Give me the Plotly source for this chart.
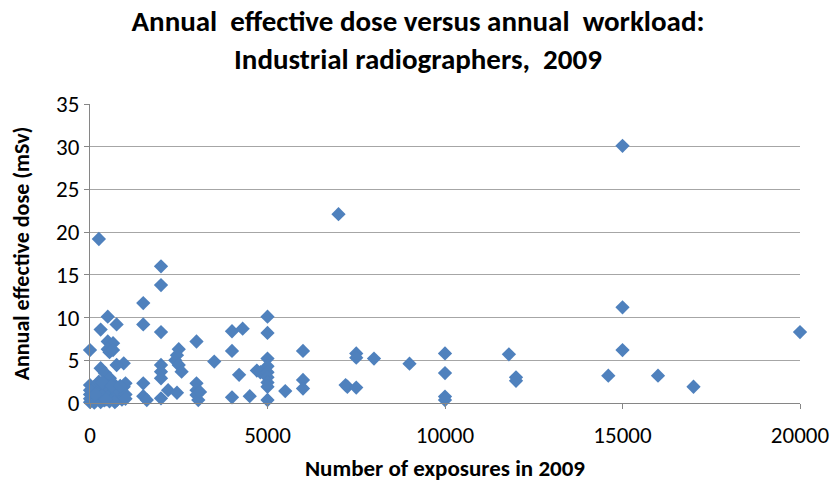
import plotly.graph_objects as go

exposures = [
    250, 2000, 2000, 1500, 500, 750, 1500, 300, 2000, 3000, 500, 650, 0, 500, 550, 650,
    2500, 2450, 2400, 2500, 2580, 3500, 950, 750, 300, 420, 560, 650, 750,
    2000, 2000, 2000, 1500, 2200, 2450, 2000, 3000, 3000, 3000, 3050, 3100, 1500, 1600,
    7000, 5000, 4000, 4300, 5000, 4000, 6000, 7500, 7500, 8000, 5000, 4200, 4700, 4800,
    5000, 5000, 5000, 5000, 5000, 5000, 5500, 6000, 6000, 7200, 7250, 7500, 4000, 4500,
    9000, 10000, 10000, 10000, 10000, 11800, 12000, 12000,
    15000, 15000, 15000, 20000, 14600, 16000, 17000,
    0, 0, 0, 0, 0, 50, 100, 100, 150, 200, 200, 250, 300, 300, 350, 400, 400, 450, 500,
    500, 550, 600, 650, 700, 750, 800, 850, 900, 950, 1000, 1000, 1000, 120, 250, 350,
    600, 700, 50, 150, 450, 850,
]
dose = [
    19.2, 16.0, 13.8, 11.7, 10.1, 9.2, 9.2, 8.6, 8.3, 7.2, 7.2, 7.0, 6.2, 6.3, 5.95, 6.2,
    6.3, 5.6, 5.0, 4.45, 3.67, 4.85, 4.65, 4.45, 4.07, 3.5, 2.9, 2.3, 1.7,
    4.45, 3.67, 2.9, 2.3, 1.5, 1.2, 0.55, 2.3, 1.5, 0.94, 0.35, 1.3, 0.8, 0.35,
    22.1, 10.1, 8.4, 8.7, 8.2, 6.1, 6.1, 5.8, 5.3, 5.2, 5.2, 3.3, 3.8, 3.6,
    4.3, 3.6, 3.0, 2.4, 1.9, 0.35, 1.4, 2.7, 1.7, 2.1, 1.9, 1.8, 0.67, 0.8,
    4.6, 5.8, 3.5, 0.75, 0.35, 5.7, 3.0, 2.6,
    30.1, 11.2, 6.2, 8.3, 3.2, 3.2, 1.9,
    0.1, 0.5, 1.0, 1.5, 2.1, 0.3, 0.8, 1.8, 0.2, 1.2, 2.2, 0.5, 1.6, 0.1, 0.9, 2.0, 0.3, 1.3, 0.6,
    1.9, 0.2, 1.1, 0.5, 1.5, 0.3, 0.9, 1.3, 0.4, 1.9, 2.3, 1.0, 0.5, 0.05, 2.5, 2.4,
    2.0, 0.1, 1.4, 1.0, 0.4, 2.0,
]

x_ticks = [0, 5000, 10000, 15000, 20000]
y_ticks = [0, 5, 10, 15, 20, 25, 30, 35]

FONT = "Carlito, Calibri, 'Liberation Sans Narrow', 'DejaVu Sans Condensed', sans-serif"

fig = go.Figure(go.Scatter(
    x=exposures, y=dose, mode="markers", cliponaxis=False,
    marker=dict(symbol="diamond", size=11, color="#4F81BD",
                line=dict(width=0)),
    showlegend=False,
))

fig.update_layout(
    width=836, height=483,
    margin=dict(l=90, r=36, t=104, b=80),
    paper_bgcolor="white", plot_bgcolor="white",
    font=dict(family=FONT, color="#000000"),
    title=dict(
        text="<b>Annual  effective dose versus annual  workload:<br>Industrial radiographers,  2009</b>",
        x=0.5, xanchor="center", xref="container", y=0.935, yanchor="top", yref="container",
        font=dict(size=29, family=FONT, color="#000000"),
    ),
)
fig.update_xaxes(
    range=[0, 20000], tickvals=x_ticks, ticktext=[str(v) for v in x_ticks],
    showgrid=False, zeroline=False, automargin=False,
    showline=True, linecolor="#868686", linewidth=1,
    ticks="outside", ticklen=5, tickcolor="#868686", ticklabelstandoff=6,
    tickfont=dict(size=23, color="#000000"),
    title=dict(text="<b>Number of exposures in 2009</b>", font=dict(size=23), standoff=12),
)
fig.update_yaxes(
    range=[0, 35], tickvals=y_ticks, ticktext=[str(v) for v in y_ticks],
    showgrid=True, gridcolor="#a6a6a6", gridwidth=1, zeroline=False, automargin=False,
    showline=True, linecolor="#868686", linewidth=1,
    ticks="outside", ticklen=5, tickcolor="#868686",
    tickfont=dict(size=23, color="#000000"),
    title=dict(text="<b>Annual effective dose (mSv)</b>", font=dict(size=22), standoff=20),
)

fig.write_html("out.html", config={"displayModeBar": False},
               post_script="document.body.style.margin='0';")
